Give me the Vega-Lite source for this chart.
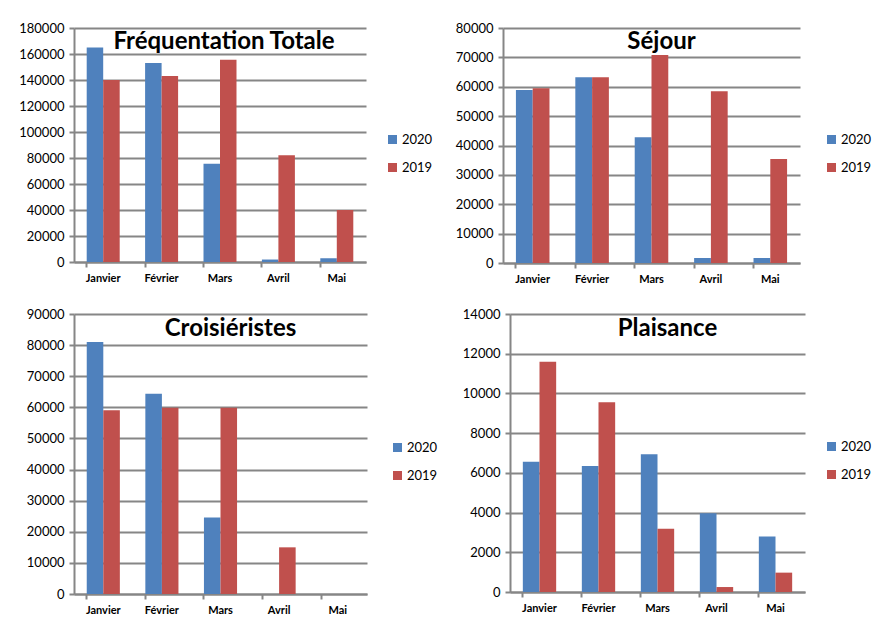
{
  "$schema": "https://vega.github.io/schema/vega-lite/v6.json",
  "background": "white",
  "padding": {"left": 18, "top": 22, "right": 0, "bottom": 0},
  "datasets": {
    "freq": [
      {"panel": "total", "mois": "Janvier", "annee": "2020", "valeur": 165000},
      {"panel": "total", "mois": "Janvier", "annee": "2019", "valeur": 140000},
      {"panel": "total", "mois": "Février", "annee": "2020", "valeur": 153000},
      {"panel": "total", "mois": "Février", "annee": "2019", "valeur": 143000},
      {"panel": "total", "mois": "Mars", "annee": "2020", "valeur": 75500},
      {"panel": "total", "mois": "Mars", "annee": "2019", "valeur": 155500},
      {"panel": "total", "mois": "Avril", "annee": "2020", "valeur": 1900},
      {"panel": "total", "mois": "Avril", "annee": "2019", "valeur": 82200},
      {"panel": "total", "mois": "Mai", "annee": "2020", "valeur": 2800},
      {"panel": "total", "mois": "Mai", "annee": "2019", "valeur": 40000},
      {"panel": "sejour", "mois": "Janvier", "annee": "2020", "valeur": 58900},
      {"panel": "sejour", "mois": "Janvier", "annee": "2019", "valeur": 59500},
      {"panel": "sejour", "mois": "Février", "annee": "2020", "valeur": 63200},
      {"panel": "sejour", "mois": "Février", "annee": "2019", "valeur": 63200},
      {"panel": "sejour", "mois": "Mars", "annee": "2020", "valeur": 42800},
      {"panel": "sejour", "mois": "Mars", "annee": "2019", "valeur": 70800},
      {"panel": "sejour", "mois": "Avril", "annee": "2020", "valeur": 1700},
      {"panel": "sejour", "mois": "Avril", "annee": "2019", "valeur": 58500},
      {"panel": "sejour", "mois": "Mai", "annee": "2020", "valeur": 1700},
      {"panel": "sejour", "mois": "Mai", "annee": "2019", "valeur": 35400},
      {"panel": "croisi", "mois": "Janvier", "annee": "2020", "valeur": 81000},
      {"panel": "croisi", "mois": "Janvier", "annee": "2019", "valeur": 59100},
      {"panel": "croisi", "mois": "Février", "annee": "2020", "valeur": 64400},
      {"panel": "croisi", "mois": "Février", "annee": "2019", "valeur": 59900},
      {"panel": "croisi", "mois": "Mars", "annee": "2020", "valeur": 24600},
      {"panel": "croisi", "mois": "Mars", "annee": "2019", "valeur": 59900},
      {"panel": "croisi", "mois": "Avril", "annee": "2020", "valeur": 0},
      {"panel": "croisi", "mois": "Avril", "annee": "2019", "valeur": 15000},
      {"panel": "croisi", "mois": "Mai", "annee": "2020", "valeur": 0},
      {"panel": "croisi", "mois": "Mai", "annee": "2019", "valeur": 0},
      {"panel": "plaisance", "mois": "Janvier", "annee": "2020", "valeur": 6560},
      {"panel": "plaisance", "mois": "Janvier", "annee": "2019", "valeur": 11600},
      {"panel": "plaisance", "mois": "Février", "annee": "2020", "valeur": 6340},
      {"panel": "plaisance", "mois": "Février", "annee": "2019", "valeur": 9550},
      {"panel": "plaisance", "mois": "Mars", "annee": "2020", "valeur": 6940},
      {"panel": "plaisance", "mois": "Mars", "annee": "2019", "valeur": 3190},
      {"panel": "plaisance", "mois": "Avril", "annee": "2020", "valeur": 3970},
      {"panel": "plaisance", "mois": "Avril", "annee": "2019", "valeur": 250},
      {"panel": "plaisance", "mois": "Mai", "annee": "2020", "valeur": 2790},
      {"panel": "plaisance", "mois": "Mai", "annee": "2019", "valeur": 975}
    ]
  },
  "config": {
    "font": "Lato",
    "view": {"stroke": null},
    "axis": {
      "gridColor": "#868686",
      "gridWidth": 2,
      "domainColor": "#868686",
      "domainWidth": 2,
      "tickColor": "#868686",
      "tickWidth": 2,
      "tickSize": 5,
      "labelColor": "black",
      "labelFont": "Lato",
      "title": null
    },
    "legend": {
      "labelFont": "Lato",
      "labelFontSize": 13,
      "labelColor": "black",
      "symbolType": "square",
      "symbolSize": 81,
      "symbolStrokeWidth": 0,
      "labelOffset": 3,
      "rowPadding": 14,
      "padding": 0,
      "title": null
    },
    "title": {"font": "Lato", "fontSize": 24, "fontWeight": "bold", "color": "black", "anchor": "middle", "frame": "group", "baseline": "alphabetic"},
    "concat": {"spacing": 22}
  },
  "vconcat": [
    {
      "spacing": 22,
      "hconcat": [
        {
          "width": 292, "height": 234,
          "title": {"text": "Fréquentation Totale", "offset": 0, "dy": 32, "dx": 4},
          "data": {"name": "freq"},
          "transform": [{"filter": "datum.panel === 'total'"}],
          "mark": {"type": "bar"},
          "encoding": {
            "x": {"field": "mois", "type": "nominal", "sort": ["Janvier", "Février", "Mars", "Avril", "Mai"], "scale": {"paddingInner": 0.435, "paddingOuter": 0.2175}, "axis": {"labelAngle": 0, "labelFontWeight": "bold", "labelFontSize": 11, "bandPosition": 0, "labelPadding": 5}},
            "xOffset": {"field": "annee", "type": "nominal", "sort": ["2020", "2019"], "scale": {"paddingInner": 0, "paddingOuter": 0}},
            "y": {"field": "valeur", "type": "quantitative", "scale": {"domain": [0, 180000], "nice": false}, "axis": {"values": [0, 20000, 40000, 60000, 80000, 100000, 120000, 140000, 160000, 180000], "format": "d", "labelFontSize": 13, "labelPadding": 5}},
            "color": {"field": "annee", "type": "nominal", "scale": {"domain": ["2020", "2019"], "range": ["#4F81BD", "#C0504D"]}, "legend": {"orient": "none", "legendX": 312, "legendY": 105}}
          }
        },
        {
          "width": 297, "height": 235,
          "title": {"text": "Séjour", "offset": 0, "dy": 32, "dx": 10},
          "data": {"name": "freq"},
          "transform": [{"filter": "datum.panel === 'sejour'"}],
          "mark": {"type": "bar"},
          "encoding": {
            "x": {"field": "mois", "type": "nominal", "sort": ["Janvier", "Février", "Mars", "Avril", "Mai"], "scale": {"paddingInner": 0.435, "paddingOuter": 0.2175}, "axis": {"labelAngle": 0, "labelFontWeight": "bold", "labelFontSize": 11, "bandPosition": 0, "labelPadding": 5}},
            "xOffset": {"field": "annee", "type": "nominal", "sort": ["2020", "2019"], "scale": {"paddingInner": 0, "paddingOuter": 0}},
            "y": {"field": "valeur", "type": "quantitative", "scale": {"domain": [0, 80000], "nice": false}, "axis": {"values": [0, 10000, 20000, 30000, 40000, 50000, 60000, 70000, 80000], "format": "d", "labelFontSize": 13, "labelPadding": 5}},
            "color": {"field": "annee", "type": "nominal", "scale": {"domain": ["2020", "2019"], "range": ["#4F81BD", "#C0504D"]}, "legend": {"orient": "none", "legendX": 322, "legendY": 105}}
          }
        }
      ],
      "resolve": {"scale": {"x": "independent", "y": "independent", "color": "independent", "xOffset": "independent"}, "legend": {"color": "independent"}}
    },
    {
      "spacing": 24,
      "hconcat": [
        {
          "width": 293, "height": 280,
          "title": {"text": "Croisiéristes", "offset": 0, "dy": 33, "dx": 10},
          "data": {"name": "freq"},
          "transform": [{"filter": "datum.panel === 'croisi'"}],
          "mark": {"type": "bar"},
          "encoding": {
            "x": {"field": "mois", "type": "nominal", "sort": ["Janvier", "Février", "Mars", "Avril", "Mai"], "scale": {"paddingInner": 0.435, "paddingOuter": 0.2175}, "axis": {"labelAngle": 0, "labelFontWeight": "bold", "labelFontSize": 11, "bandPosition": 0, "labelPadding": 5}},
            "xOffset": {"field": "annee", "type": "nominal", "sort": ["2020", "2019"], "scale": {"paddingInner": 0, "paddingOuter": 0}},
            "y": {"field": "valeur", "type": "quantitative", "scale": {"domain": [0, 90000], "nice": false}, "axis": {"values": [0, 10000, 20000, 30000, 40000, 50000, 60000, 70000, 80000, 90000], "format": "d", "labelFontSize": 13, "labelPadding": 5}},
            "color": {"field": "annee", "type": "nominal", "scale": {"domain": ["2020", "2019"], "range": ["#4F81BD", "#C0504D"]}, "legend": {"orient": "none", "legendX": 317, "legendY": 127}}
          }
        },
        {
          "width": 295, "height": 278,
          "title": {"text": "Plaisance", "offset": 0, "dy": 33, "dx": 10},
          "data": {"name": "freq"},
          "transform": [{"filter": "datum.panel === 'plaisance'"}],
          "mark": {"type": "bar"},
          "encoding": {
            "x": {"field": "mois", "type": "nominal", "sort": ["Janvier", "Février", "Mars", "Avril", "Mai"], "scale": {"paddingInner": 0.435, "paddingOuter": 0.2175}, "axis": {"labelAngle": 0, "labelFontWeight": "bold", "labelFontSize": 11, "bandPosition": 0, "labelPadding": 5}},
            "xOffset": {"field": "annee", "type": "nominal", "sort": ["2020", "2019"], "scale": {"paddingInner": 0, "paddingOuter": 0}},
            "y": {"field": "valeur", "type": "quantitative", "scale": {"domain": [0, 14000], "nice": false}, "axis": {"values": [0, 2000, 4000, 6000, 8000, 10000, 12000, 14000], "format": "d", "labelFontSize": 13, "labelPadding": 5}},
            "color": {"field": "annee", "type": "nominal", "scale": {"domain": ["2020", "2019"], "range": ["#4F81BD", "#C0504D"]}, "legend": {"orient": "none", "legendX": 315, "legendY": 126}}
          }
        }
      ],
      "resolve": {"scale": {"x": "independent", "y": "independent", "color": "independent", "xOffset": "independent"}, "legend": {"color": "independent"}}
    }
  ],
  "spacing": 24
}
